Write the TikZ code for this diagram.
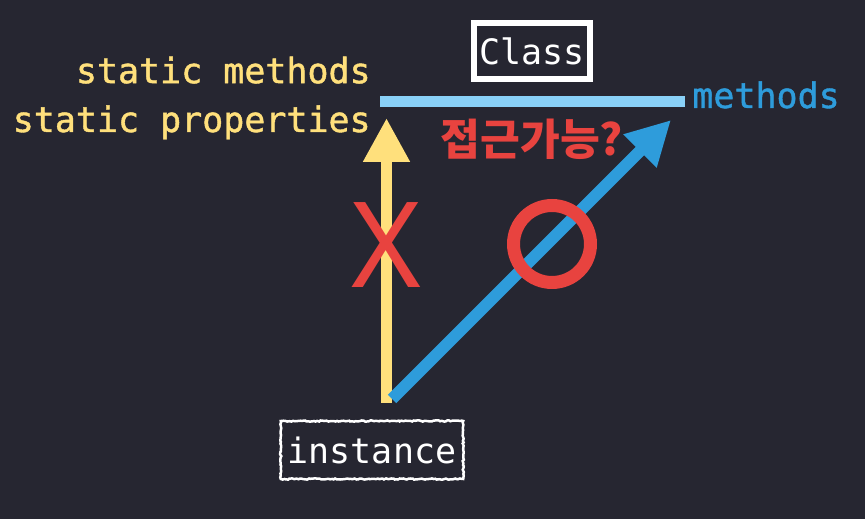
\documentclass[tikz,border=0pt]{standalone}
\usepackage{fontspec}
\setmonofont{DejaVu Sans Mono}
\setsansfont{Noto Sans}
\newfontfamily\korfont{Noto Sans CJK KR}
\newfontfamily\etiqfont{DejaVu Sans Mono}[FakeBold=1.2]
\usepackage{tikz}
\usetikzlibrary{arrows.meta}
\usetikzlibrary{positioning}
\usetikzlibrary{decorations.pathmorphing}
\definecolor{bgdark}{HTML}{262631}
\definecolor{statyellow}{HTML}{FFE07C}
\definecolor{barblue}{HTML}{89D0F7}
\definecolor{methblue}{HTML}{2E9CDB}
\definecolor{markred}{HTML}{E8433F}
\tikzset{
    boite/.style = {draw=white, text=white, inner sep=0pt,
        font=\ttfamily\fontsize{19.9}{24}\selectfont},
    etiquette/.style = {inner sep=0pt, font=\etiqfont\fontsize{19.9}{27.8}\selectfont},
    fleche/.style = {-{Triangle[length=0.88cm, width=0.88cm]}},
    marque/.style = {text=markred, inner sep=0pt},
    >=Latex
}
\begin{document}
\begin{tikzpicture}[x=0.02cm, y=-0.02cm]
                \fill[bgdark] (0,0) rectangle (865,519);
                \useasboundingbox (0,0) rectangle (865,519);
                % boxes
                \node (Class) [boite, line width=0.11cm, minimum width=2.32cm, minimum height=1.12cm] at (532,51) {Class};
                \node (inst) [boite, line width=0.05cm, minimum width=3.65cm, minimum height=1.16cm,
                    decorate, decoration={random steps, segment length=1pt, amplitude=0.35pt}] at (372,450) {instance};
                % the bar
                \coordinate (barL) at (380,101.5);
                \coordinate (barR) at (685,101.5);
                \draw[barblue, line width=0.22cm] (barL) -- (barR);
                % labels
                \node (meth) [etiquette, text=methblue, anchor=base west] at (692,108) {methods};
                \node (stat) [etiquette, text=statyellow, anchor=base east, align=right] at (371,132)
                    {static methods\\static properties};
                \node (acces) [marque, font=\korfont\bfseries\fontsize{24.6}{28}\selectfont] at (532,139) {접근가능?};
                % arrows
                \coordinate (yTail) at (386.5,403);
                \coordinate (yTip) at (386.5,118);
                \coordinate (bTail) at (392,399);
                \coordinate (bTip) at (671,120);
                \draw[fleche, statyellow, line width=0.22cm] (yTail) -- (yTip);
                \draw[fleche, methblue, line width=0.24cm] (bTail) -- (bTip);
                % X and O
                \node (non) [marque, font=\sffamily\fontsize{67.7}{70}\selectfont] at (386,245) {X};
                \node (oui) [circle, draw=markred, line width=0.26cm, minimum size=1.54cm, inner sep=0pt] at (552,244) {};
            \end{tikzpicture}
\end{document}
